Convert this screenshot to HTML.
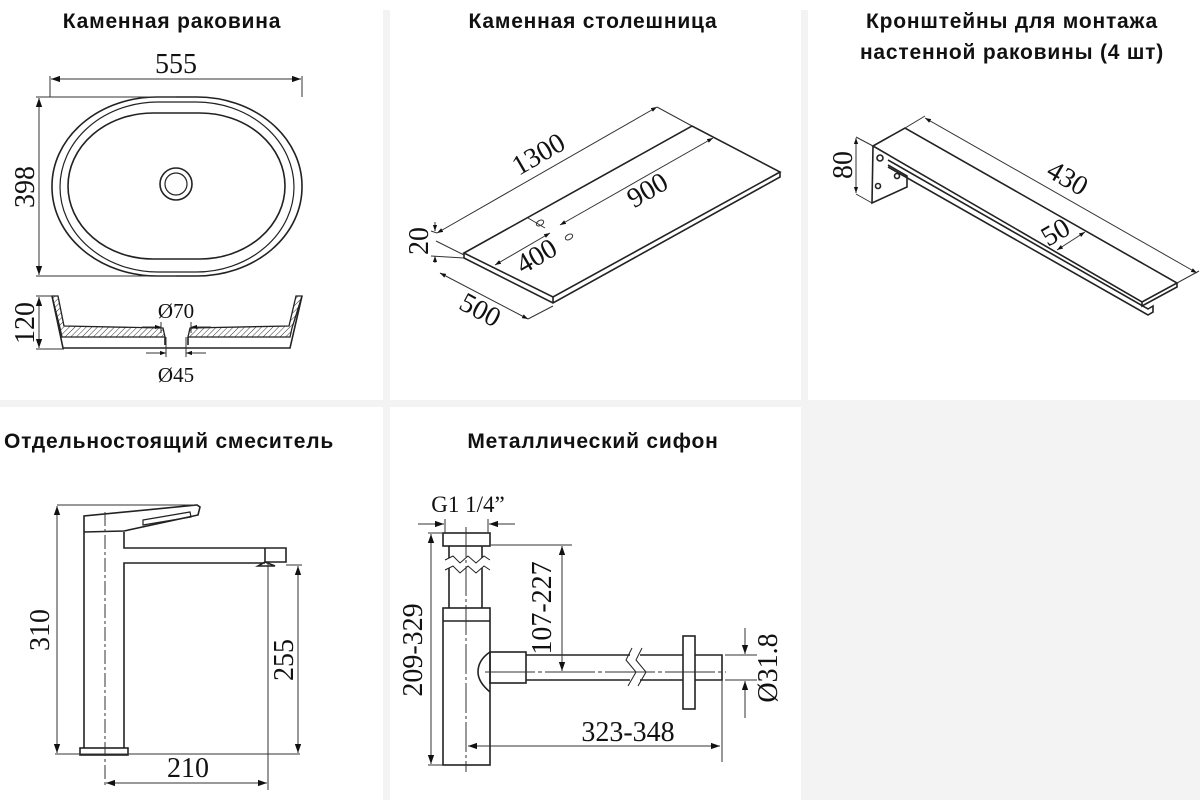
<!DOCTYPE html>
<html><head><meta charset="utf-8"><style>
html,body{margin:0;padding:0;background:#fff;}
svg{display:block;}
.t{font-family:"Liberation Sans","DejaVu Sans",sans-serif;font-weight:bold;font-size:21px;letter-spacing:0.8px;fill:#111;}
.d{font-family:"Liberation Serif","DejaVu Serif",serif;font-size:28px;fill:#111;}
.l{fill:none;stroke:#222;stroke-width:1.6;}
.th{fill:none;stroke:#333;stroke-width:1;}
</style></head><body>
<svg width="1200" height="800" viewBox="0 0 1200 800" xmlns="http://www.w3.org/2000/svg">
<defs>
<marker id="a" viewBox="0 0 10 10" refX="10" refY="5" markerWidth="9" markerHeight="9" orient="auto-start-reverse" markerUnits="userSpaceOnUse"><path d="M0,1.5 L10,5 L0,8.5z" fill="#111"/></marker>
<marker id="s" viewBox="0 0 10 10" refX="10" refY="5" markerWidth="6" markerHeight="6" orient="auto-start-reverse" markerUnits="userSpaceOnUse"><path d="M0,1.5 L10,5 L0,8.5z" fill="#111"/></marker>
<pattern id="h" width="4" height="4" patternUnits="userSpaceOnUse" patternTransform="rotate(45)"><line x1="0" y1="0" x2="0" y2="4" stroke="#333" stroke-width="1"/></pattern>
</defs>
<rect x="383" y="10" width="7" height="790" fill="#f3f3f3"/>
<rect x="801" y="10" width="7" height="790" fill="#f3f3f3"/>
<rect x="0" y="400" width="1200" height="7" fill="#f3f3f3"/>
<rect x="808" y="407" width="392" height="393" fill="#f3f3f3"/>

<text class="t" x="172" y="28" text-anchor="middle">Каменная раковина</text>
<text class="t" x="593" y="28" text-anchor="middle">Каменная столешница</text>
<text class="t" x="1012" y="28" text-anchor="middle">Кронштейны для монтажа</text>
<text class="t" x="1012" y="59" text-anchor="middle">настенной раковины (4 шт)</text>
<text class="t" x="169" y="448" text-anchor="middle">Отдельностоящий смеситель</text>
<text class="t" x="593" y="448" text-anchor="middle">Металлический сифон</text>

<!-- SINK -->
<g class="l">
<rect x="52" y="97" width="250" height="179" rx="105" ry="89"/>
<rect x="60" y="102" width="234" height="170" rx="98" ry="85" stroke-width="1.2"/>
<rect x="68" y="113" width="217" height="146" rx="85" ry="73"/>
<circle cx="176" cy="184" r="16"/><circle cx="176" cy="184" r="11" stroke-width="1.2"/>
</g>
<g class="th">
<line x1="50" y1="76" x2="50" y2="97"/><line x1="302" y1="76" x2="302" y2="97"/>
<line x1="51" y1="79" x2="301" y2="79" marker-start="url(#a)" marker-end="url(#a)"/>
<line x1="36" y1="97" x2="176" y2="97"/><line x1="36" y1="276" x2="176" y2="276"/>
<line x1="39" y1="98" x2="39" y2="275" marker-start="url(#a)" marker-end="url(#a)"/>
</g>
<text class="d" x="176" y="73" text-anchor="middle">555</text>
<text class="d" transform="translate(34,187) rotate(-90)" text-anchor="middle">398</text>
<!-- section -->
<path d="M52,296 L58,296 L64,326 L163,328 L165,337 L62,337 L60,328 Z" fill="url(#h)" stroke="#222" stroke-width="1.3"/>
<path d="M302,296 L296,296 L289,326 L190,328 L188,337 L290,337 L292,328 Z" fill="url(#h)" stroke="#222" stroke-width="1.3"/>
<path d="M52,296 L63,348 L290,348 L302,296" class="l" stroke-width="1.3"/>
<line x1="165" y1="337" x2="165" y2="345" class="l" stroke-width="1"/><line x1="188" y1="337" x2="188" y2="345" class="l" stroke-width="1"/>
<g class="th">
<line x1="36" y1="296" x2="52" y2="296"/><line x1="36" y1="349" x2="64" y2="349"/>
<line x1="39" y1="297" x2="39" y2="348" marker-start="url(#a)" marker-end="url(#a)"/>
<line x1="161" y1="322" x2="161" y2="333"/><line x1="191" y1="322" x2="191" y2="333"/>
<line x1="142" y1="327" x2="161" y2="327" marker-end="url(#s)"/><line x1="211" y1="327" x2="191" y2="327" marker-end="url(#s)"/>
<line x1="166" y1="337" x2="166" y2="357"/><line x1="186" y1="337" x2="186" y2="357"/>
<line x1="146" y1="353" x2="166" y2="353" marker-end="url(#s)"/><line x1="206" y1="353" x2="186" y2="353" marker-end="url(#s)"/>
</g>
<text class="d" x="176" y="318" text-anchor="middle" style="font-size:21px">Ø70</text>
<text class="d" x="176" y="382" text-anchor="middle" style="font-size:21px">Ø45</text>
<text class="d" transform="translate(34,323) rotate(-90)" text-anchor="middle">120</text>

<!-- COUNTERTOP -->
<g class="l">
<path d="M464,253 L692,126 L780,172 L553,297 Z"/>
<path d="M464,253 L464,258 L553,303 L780,177 L780,172"/>
<line x1="553" y1="297" x2="553" y2="303"/>
</g>
<g class="th">
<line x1="657" y1="107" x2="692" y2="126"/>
<line x1="437" y1="233" x2="657" y2="107" marker-start="url(#s)" marker-end="url(#s)"/>
<line x1="560" y1="225" x2="713" y2="138" marker-start="url(#s)" marker-end="url(#s)"/>
<line x1="495" y1="265" x2="550" y2="233" marker-start="url(#s)" marker-end="url(#s)"/>
<line x1="528" y1="218" x2="545" y2="228"/>
<line x1="440" y1="273" x2="528" y2="319" marker-start="url(#s)" marker-end="url(#s)"/>
<line x1="436" y1="241" x2="464" y2="255"/><line x1="528" y1="319" x2="553" y2="306"/>
<line x1="435" y1="222" x2="435" y2="231" marker-end="url(#s)"/>
<line x1="435" y1="263" x2="435" y2="256" marker-end="url(#s)"/>
<line x1="431" y1="231" x2="437" y2="233"/><line x1="431" y1="256" x2="464" y2="258"/>
<ellipse cx="540" cy="223" rx="4" ry="2.5" transform="rotate(-30 540 223)"/>
<ellipse cx="569" cy="237" rx="4" ry="2.5" transform="rotate(-30 569 237)"/>
</g>
<text class="d" transform="translate(543,162) rotate(-30)" text-anchor="middle">1300</text>
<text class="d" transform="translate(652,198) rotate(-30)" text-anchor="middle">900</text>
<text class="d" transform="translate(541,264) rotate(-30)" text-anchor="middle">400</text>
<text class="d" transform="translate(476,318) rotate(28)" text-anchor="middle">500</text>
<text class="d" transform="translate(428,241) rotate(-90)" text-anchor="middle">20</text>

<!-- BRACKET -->
<g class="l" stroke-width="1.4">
<path d="M873,146 L905,128 L1177,283 L1142,302 Z"/>
<path d="M1142,302 L1142,306 L1177,287 L1177,283"/>
<path d="M873,146 L872,203 L907,187 L907,176 L888,165"/>
<path d="M888,160 L1148,309 L1153,306 L1153,312 L1148,315 L888,167"/>
<circle cx="880" cy="158" r="3"/><circle cx="878" cy="186" r="2.5"/><circle cx="897" cy="176" r="2.5"/>
</g>
<g class="th">
<line x1="925" y1="118" x2="1197" y2="273" marker-start="url(#s)" marker-end="url(#s)"/>
<line x1="905" y1="128" x2="925" y2="116"/><line x1="1177" y1="283" x2="1199" y2="271"/>
<line x1="1057" y1="250" x2="1085" y2="232" marker-start="url(#s)" marker-end="url(#s)"/>
<line x1="856" y1="138" x2="856" y2="193" marker-start="url(#s)" marker-end="url(#s)"/>
<line x1="856" y1="137" x2="873" y2="146"/><line x1="856" y1="194" x2="872" y2="203"/>
</g>
<text class="d" transform="translate(1063,186) rotate(30)" text-anchor="middle">430</text>
<text class="d" transform="translate(1060,240) rotate(-30)" text-anchor="middle">50</text>
<text class="d" transform="translate(852,165) rotate(-90)" text-anchor="middle">80</text>

<!-- FAUCET -->
<g class="l" stroke-width="1.5">
<rect x="80" y="748" width="48" height="7"/>
<path d="M84,748 L84,532 M124,748 L124,563 L265,563 M124,532 L124,548 L286,548 L286,562 L265,562 L258,566 L275,566 L265,562"/>
<path d="M84,532 L84,516 L197,505 L200,507 L198,515 L124,531 L84,532"/>
<path d="M143,520 L190,512 L191,517 L143,525 Z" stroke-width="1.2"/>
<line x1="265" y1="548" x2="265" y2="563"/>
</g>
<g class="th">
<line x1="105" y1="512" x2="105" y2="788" stroke-dasharray="14,3,3,3"/>
<line x1="57" y1="505" x2="198" y2="505"/><line x1="55" y1="754" x2="300" y2="754"/>
<line x1="57" y1="506" x2="57" y2="753" marker-start="url(#a)" marker-end="url(#a)"/>
<line x1="286" y1="565" x2="302" y2="565"/>
<line x1="298" y1="566" x2="298" y2="753" marker-start="url(#a)" marker-end="url(#a)"/>
<line x1="268" y1="562" x2="268" y2="790"/>
<line x1="106" y1="783" x2="267" y2="783" marker-start="url(#a)" marker-end="url(#a)"/>
</g>
<text class="d" transform="translate(49,630) rotate(-90)" text-anchor="middle">310</text>
<text class="d" transform="translate(293,660) rotate(-90)" text-anchor="middle">255</text>
<text class="d" x="188" y="777" text-anchor="middle">210</text>

<!-- SIPHON -->
<g class="l" stroke-width="1.5">
<rect x="443" y="533" width="47" height="13"/>
<path d="M449,546 L449,558 M482,546 L482,558 M449,568 L449,608 M482,568 L482,608"/>
<path d="M445,560 L453,556 L460,563 L468,556 L476,563 L484,556 L490,560" stroke-width="1"/>
<path d="M445,570 L453,566 L460,573 L468,566 L476,573 L484,566 L490,570" stroke-width="1"/>
<rect x="443" y="608" width="47" height="157"/>
<line x1="443" y1="621" x2="490" y2="621"/>
<path d="M490,652 Q478,660 478,672 Q478,682 490,692"/>
<rect x="490" y="652" width="36" height="31"/>
<path d="M526,655 L630,655 M526,680 L630,680 M640,655 L683,655 M640,680 L683,680"/>
<path d="M632,648 L626,660 L636,672 L628,686" stroke-width="1"/>
<path d="M642,648 L636,660 L646,672 L638,686" stroke-width="1"/>
<rect x="683" y="636" width="12" height="73"/>
<path d="M695,655 L722,655 L722,680 L695,680"/>
</g>
<g class="th">
<line x1="466" y1="527" x2="466" y2="772" stroke-dasharray="30,3,3,3"/>
<line x1="485" y1="672" x2="726" y2="672" stroke-dasharray="50,3,4,3"/>
<line x1="445" y1="519" x2="445" y2="533"/><line x1="488" y1="519" x2="488" y2="533"/>
<line x1="418" y1="524" x2="444" y2="524" marker-end="url(#a)"/><line x1="515" y1="524" x2="489" y2="524" marker-end="url(#a)"/>
<line x1="428" y1="533" x2="443" y2="533"/><line x1="428" y1="765" x2="443" y2="765"/>
<line x1="431" y1="534" x2="431" y2="764" marker-start="url(#a)" marker-end="url(#a)"/>
<line x1="491" y1="545" x2="572" y2="545"/>
<line x1="562" y1="546" x2="562" y2="671" marker-start="url(#a)" marker-end="url(#a)"/>
<line x1="468" y1="746" x2="720" y2="746" marker-start="url(#a)" marker-end="url(#a)"/>
<line x1="722" y1="680" x2="722" y2="762"/>
<line x1="725" y1="655" x2="757" y2="655"/><line x1="725" y1="680" x2="757" y2="680"/>
<line x1="745" y1="628" x2="745" y2="654" marker-end="url(#a)"/>
<line x1="745" y1="718" x2="745" y2="681" marker-end="url(#a)"/>
</g>
<text class="d" x="468" y="512" text-anchor="middle" style="font-size:23px">G1 1/4”</text>
<text class="d" transform="translate(551,608) rotate(-90)" text-anchor="middle">107-227</text>
<text class="d" transform="translate(422,650) rotate(-90)" text-anchor="middle">209-329</text>
<text class="d" x="628" y="741" text-anchor="middle">323-348</text>
<text class="d" transform="translate(777,668) rotate(-90)" text-anchor="middle">Ø31.8</text>
</svg>
</body></html>
